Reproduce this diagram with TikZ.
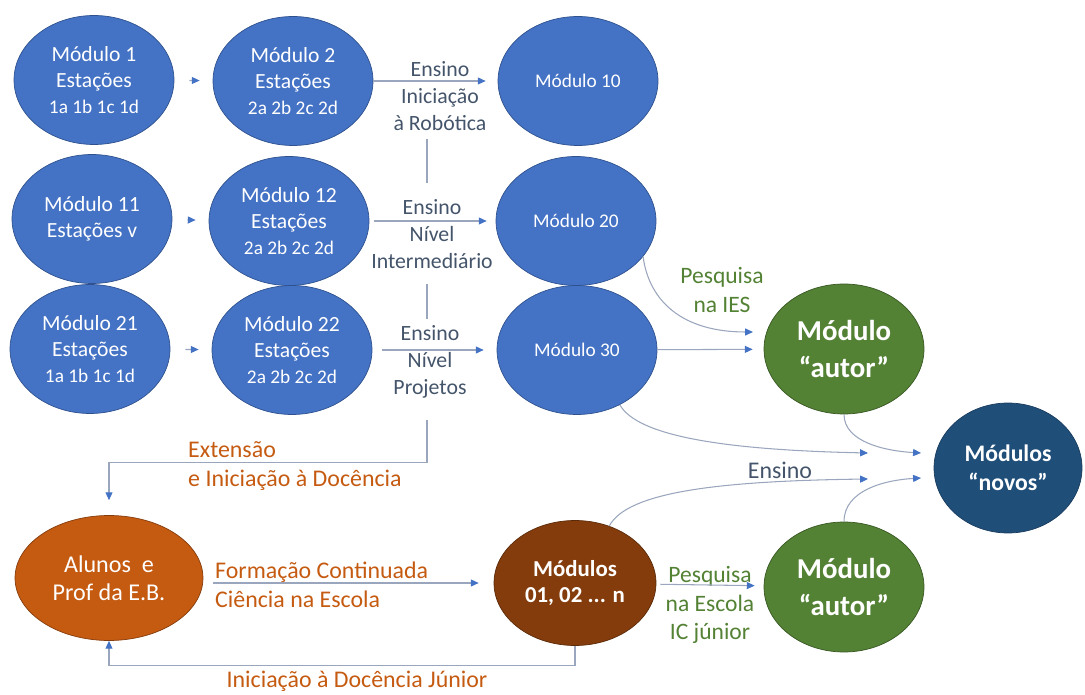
\documentclass[tikz,border=0pt]{standalone}
\usepackage{fontspec}
\setmainfont{Carlito}
\usetikzlibrary{arrows.meta,positioning,shapes.geometric}
\definecolor{modblue}{HTML}{4472C4}
\definecolor{modedge}{HTML}{2F528F}
\definecolor{autgreen}{HTML}{548235}
\definecolor{autedge}{HTML}{385723}
\definecolor{newblue}{HTML}{1F4E79}
\definecolor{newedge}{HTML}{1A3C5E}
\definecolor{ebor}{HTML}{C55A11}
\definecolor{eboredge}{HTML}{843C0C}
\definecolor{modbrown}{HTML}{843C0C}
\definecolor{brownedge}{HTML}{5B2A08}
\definecolor{slate}{HTML}{44546A}
\definecolor{linegrey}{HTML}{9AA6BD}
\definecolor{arrowblue}{HTML}{4472C4}

\begin{document}
\begin{tikzpicture}[x=0.02cm,y=-0.02cm,
    font=\fontsize{12.3}{14.8}\selectfont,
    mod/.style={ellipse,draw=modedge,fill=modblue,text=white,align=center,inner sep=0pt,
      minimum width=3.2cm,minimum height=2.58cm},
    modwide/.style={mod,font=\fontsize{11}{14}\selectfont},
    autor/.style={ellipse,draw=autedge,fill=autgreen,text=white,align=center,inner sep=0pt,
      minimum width=3.2cm,minimum height=2.6cm,font=\fontsize{16.4}{21}\selectfont\bfseries},
    con/.style={draw=linegrey,line width=0.6pt,-{Triangle[length=4.5pt,width=4pt,color=arrowblue]}},
    plain/.style={draw=linegrey,line width=0.6pt},
    lbl/.style={align=center,text=slate,font=\fontsize{12.4}{15.4}\selectfont},
    glbl/.style={align=center,text=autgreen,font=\fontsize{13.4}{16.4}\selectfont},
    olbl/.style={align=left,text=ebor,font=\fontsize{13.6}{16.8}\selectfont}]
  \useasboundingbox (0,0) rectangle (1085,695);

  % modulos
  \node[mod] (m1) at (94,80) {Módulo 1\\Estações\\{\fontsize{11}{14.8}\selectfont 1a 1b 1c 1d}};
  \node[mod] (m2) at (293,81) {Módulo 2\\Estações\\{\fontsize{11}{14.8}\selectfont 2a 2b 2c 2d}};
  \node[modwide] (m10) at (578,81) {Módulo 10};
  \node[mod] (m11) at (92,219) {Módulo 11\\Estações v};
  \node[mod] (m12) at (289,221) {Módulo 12\\Estações\\{\fontsize{11}{14.8}\selectfont 2a 2b 2c 2d}};
  \node[modwide] (m20) at (576,221) {Módulo 20};
  \node[mod] (m21) at (90,349) {Módulo 21\\Estações\\{\fontsize{11}{14.8}\selectfont 1a 1b 1c 1d}};
  \node[mod] (m22) at (292,350) {Módulo 22\\Estações\\{\fontsize{11}{14.8}\selectfont 2a 2b 2c 2d}};
  \node[modwide] (m30) at (577,350) {Módulo 30};

  \node[autor] (aut1) at (844,349) {Módulo\\“autor”};
  \node[autor] (aut2) at (844,587) {Módulo\\“autor”};
  \node[ellipse,draw=newedge,fill=newblue,text=white,align=center,inner sep=0pt,
    minimum width=2.96cm,minimum height=2.6cm,font=\fontsize{13.5}{16.5}\selectfont\bfseries]
    (novos) at (1008,468) {Módulos\\“novos”};
  \node[ellipse,draw=eboredge,fill=ebor,text=white,align=center,inner sep=0pt,
    minimum width=3.76cm,minimum height=2.5cm,font=\fontsize{13.7}{16}\selectfont]
    (alunos) at (109,578) {Alunos~ e\\Prof da E.B.};
  \node[ellipse,draw=brownedge,fill=modbrown,text=white,align=center,inner sep=0pt,
    minimum width=3.24cm,minimum height=2.5cm,font=\fontsize{13}{15}\selectfont\bfseries]
    (brown) at (575,583) {Módulos\\01, 02 ... n};

  % textos
  \node[lbl] (lab1) at (440,96) {Ensino\\Iniciação\\à Robótica};
  \node[lbl] (lab2) at (432,234) {Ensino\\Nível\\Intermediário};
  \node[lbl] (lab3) at (430,362) {Ensino\\Nível\\Projetos};
  \node[glbl] (ies) at (722,290) {Pesquisa\\na IES};
  \node[olbl,anchor=west] (ext) at (182,466) {Extensão\\e Iniciação à Docência};
  \node[olbl,anchor=west] (form) at (209,585) {Formação Continuada\\Ciência na Escola};
  \node[lbl,font=\fontsize{13.6}{16}\selectfont] (ens) at (780,470) {Ensino};
  \node[glbl] (esc) at (710,605) {Pesquisa\\na Escola\\IC júnior};
  \node[olbl,inner sep=1pt] (junior) at (357,681) {Iniciação à Docência Júnior};

  \coordinate (spine) at (427,0);
  \coordinate (tipA) at (753,332);
  \coordinate (tipB) at (868,453);
  \coordinate (tipC) at (921,453);
  \coordinate (tipD) at (868,479);
  \coordinate (tipE) at (921,478);

  % setas
  \draw[con,shorten <=0.3cm,shorten >=0.26cm] (m1) -- (m2);
  \draw[con,shorten <=0.3cm,shorten >=0.26cm] (m11) -- (m12);
  \draw[con,shorten <=0.3cm,shorten >=0.26cm] (m21) -- (m22);
  \draw[con,shorten >=0.24cm] (m2) -- (m10);
  \draw[con,shorten <=0.1cm,shorten >=0.18cm] (m12) -- (m20);
  \draw[con,shorten <=0.2cm,shorten >=0.26cm] (m22) -- (m30);
  \draw[con,shorten >=0.22cm] (m30) -- (aut1);
  \draw[plain,shorten <=0.05cm,shorten >=0.2cm] (lab1.south -| spine) -- (lab2.north -| spine);
  \draw[plain,shorten <=0.18cm] (lab2.south -| spine) -- (lab3.north -| spine);
  \draw[con,shorten <=0.3cm,shorten >=0.3cm] (lab3.south -| spine) -- ++(0,58) -| (alunos.north);
  \draw[con] (m20.-28) .. controls +(6,45) and +(-70,0) .. (tipA);
  \draw[con] (m30.-52) .. controls +(18,32) and +(-140,-3) .. (tipB);
  \draw[con] (aut1.south) .. controls +(0,28) and +(-35,-2) .. (tipC);
  \draw[con] (brown.59) .. controls +(18,-34) and +(-150,2) .. (tipD);
  \draw[con] (aut2.north) .. controls +(0,-32) and +(-35,2) .. (tipE);
  \draw[con,shorten <=0.2cm,shorten >=0.3cm] (alunos.east |- brown) -- (brown);
  \draw[con,shorten <=0.08cm,shorten >=0.18cm] (brown) -- (aut2);
  \draw[con] (brown.south) -- ++(0,20) -| (alunos.south);
\end{tikzpicture}
\end{document}
